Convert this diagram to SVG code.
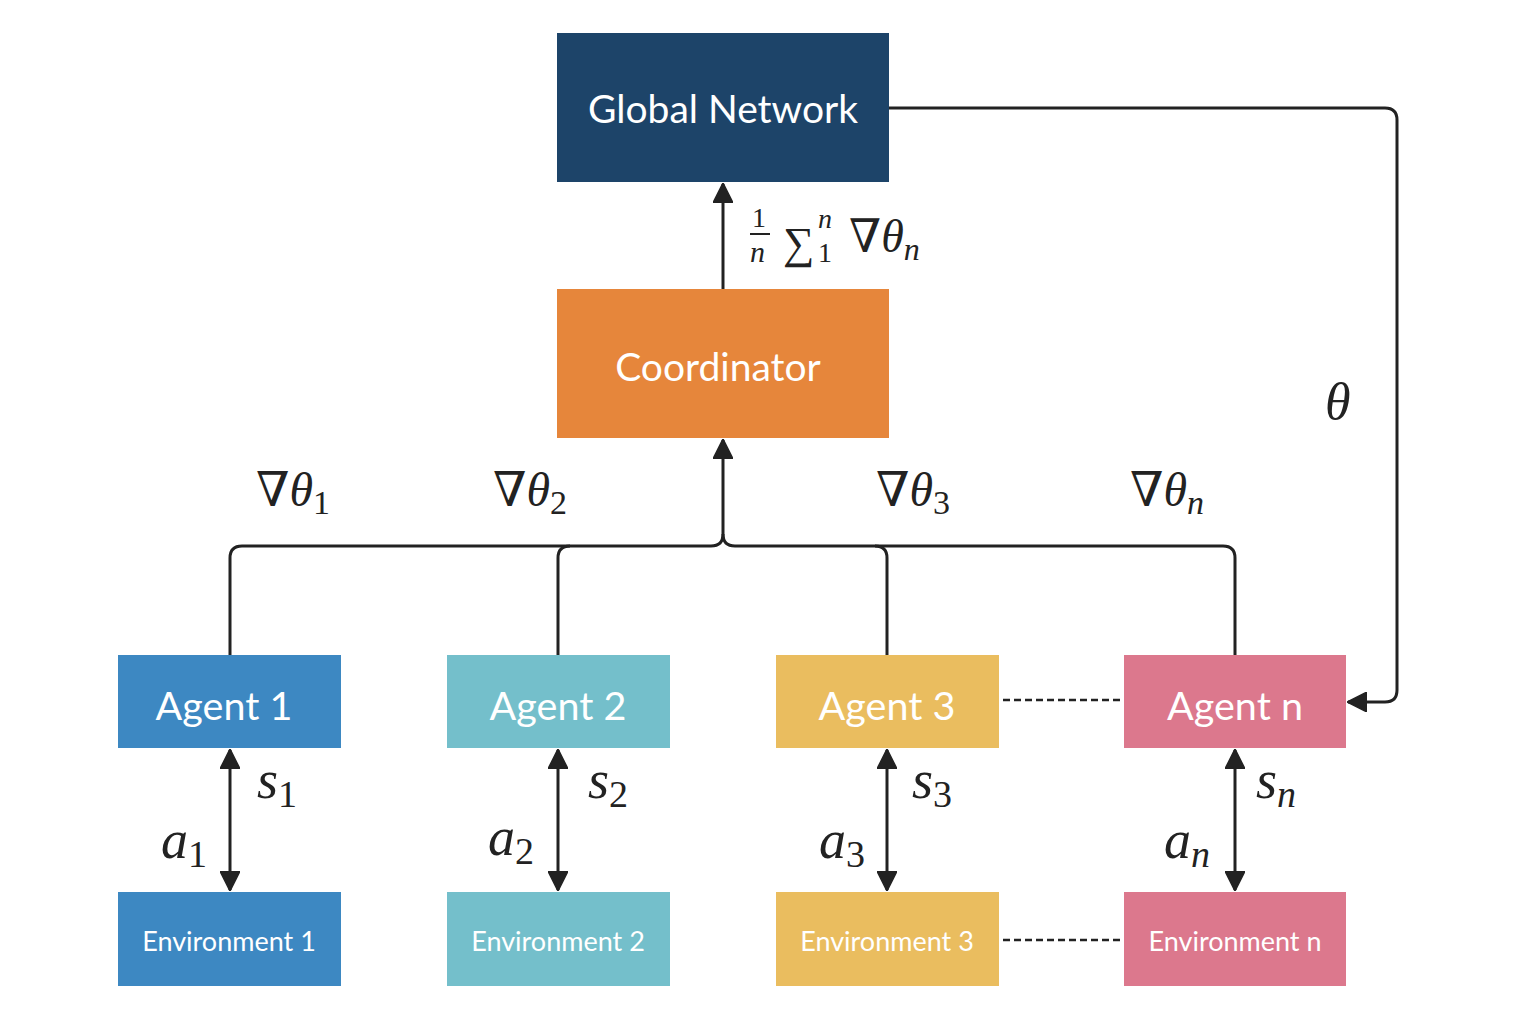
<svg xmlns="http://www.w3.org/2000/svg" width="1522" height="1016" viewBox="0 0 1522 1016">
<defs>
<marker id="ah" viewBox="0 0 20 20" refX="19" refY="10" markerWidth="20" markerHeight="20" markerUnits="userSpaceOnUse" orient="auto-start-reverse">
<path d="M0,0 L20,10 L0,20 Z" fill="#222" stroke="#222" stroke-width="1.5" stroke-linejoin="round"/>
</marker>
<style>
.box{stroke:none}
.t{font-family:Lato,"Open Sans",sans-serif;fill:#fff;text-anchor:middle;dominant-baseline:central}
.big{font-size:39px}
.ag{font-size:39.5px}
.env{font-size:27px}
.ln{fill:none;stroke:#222;stroke-width:3}
.dash{fill:none;stroke:#222;stroke-width:2.5;stroke-dasharray:7 4}
.m{font-family:"Liberation Serif","DejaVu Serif",serif;fill:#222;font-size:48px}
.sa{font-size:54px}
.i{font-style:italic}
.sub{font-size:34px}
</style>
</defs>
<rect width="1522" height="1016" fill="#fff"/>
<g id="global-network"><rect class="box" x="557" y="33" width="332" height="149" fill="#1d4469"/><text class="t big" x="723" y="108">Global Network</text></g>
<g id="coordinator"><rect class="box" x="557" y="289" width="332" height="149" fill="#e6863b"/><text class="t big" x="718" y="366">Coordinator</text></g>
<g id="agent1"><rect class="box" x="118" y="655" width="223" height="93" fill="#3d88c2"/><text class="t ag" x="224" y="704">Agent 1</text></g>
<g id="agent2"><rect class="box" x="447" y="655" width="223" height="93" fill="#74bfcb"/><text class="t ag" x="558" y="704">Agent 2</text></g>
<g id="agent3"><rect class="box" x="776" y="655" width="223" height="93" fill="#eabd5f"/><text class="t ag" x="887" y="704">Agent 3</text></g>
<g id="agentn"><rect class="box" x="1124" y="655" width="222" height="93" fill="#dc788d"/><text class="t ag" x="1235" y="704">Agent n</text></g>
<g id="env1"><rect class="box" x="118" y="892" width="223" height="94" fill="#3d88c2"/><text class="t env" x="229" y="940">Environment 1</text></g>
<g id="env2"><rect class="box" x="447" y="892" width="223" height="94" fill="#74bfcb"/><text class="t env" x="558" y="940">Environment 2</text></g>
<g id="env3"><rect class="box" x="776" y="892" width="223" height="94" fill="#eabd5f"/><text class="t env" x="887" y="940">Environment 3</text></g>
<g id="envn"><rect class="box" x="1124" y="892" width="222" height="94" fill="#dc788d"/><text class="t env" x="1235" y="940">Environment n</text></g>
<g id="connectors">
<path class="ln" d="M723,289 V184" marker-end="url(#ah)"/>
<path class="ln" d="M230,655 V558 Q230,546 242,546 H711 Q723,546 723,534 V440" marker-end="url(#ah)"/>
<path class="ln" d="M558,655 V558 Q558,546 570,546"/>
<path class="ln" d="M1235,655 V558 Q1235,546 1223,546 H735 Q723,546 723,534"/>
<path class="ln" d="M887,655 V558 Q887,546 875,546"/>
<path class="ln" d="M889,108 H1385 Q1397,108 1397,120 V690 Q1397,702 1385,702 H1348" marker-end="url(#ah)"/>
<path class="ln" d="M230,750 V890" marker-start="url(#ah)" marker-end="url(#ah)"/>
<path class="ln" d="M558,750 V890" marker-start="url(#ah)" marker-end="url(#ah)"/>
<path class="ln" d="M887,750 V890" marker-start="url(#ah)" marker-end="url(#ah)"/>
<path class="ln" d="M1235,750 V890" marker-start="url(#ah)" marker-end="url(#ah)"/>
<path class="dash" d="M1003,700 H1121"/>
<path class="dash" d="M1003,940 H1120"/>
</g>
<g id="labels">
<text class="m" x="256" y="506">∇<tspan class="i">θ</tspan><tspan class="sub" dy="8">1</tspan></text>
<text class="m" x="493" y="506">∇<tspan class="i">θ</tspan><tspan class="sub" dy="8">2</tspan></text>
<text class="m" x="876" y="506">∇<tspan class="i">θ</tspan><tspan class="sub" dy="8">3</tspan></text>
<text class="m" x="1130" y="506">∇<tspan class="i">θ</tspan><tspan class="sub i" dy="8">n</tspan></text>
<text class="m i" x="1325" y="419" style="font-size:52px">θ</text>
<text class="m sa" x="257" y="798"><tspan class="i">s</tspan><tspan class="sub" style="font-size:38px" dy="9">1</tspan></text>
<text class="m sa" x="588" y="798"><tspan class="i">s</tspan><tspan class="sub" style="font-size:38px" dy="9">2</tspan></text>
<text class="m sa" x="912" y="798"><tspan class="i">s</tspan><tspan class="sub" style="font-size:38px" dy="9">3</tspan></text>
<text class="m sa" x="1256" y="798"><tspan class="i">s</tspan><tspan class="sub i" style="font-size:38px" dy="9">n</tspan></text>
<text class="m sa" x="161" y="858"><tspan class="i">a</tspan><tspan class="sub" style="font-size:38px" dy="9">1</tspan></text>
<text class="m sa" x="488" y="855"><tspan class="i">a</tspan><tspan class="sub" style="font-size:38px" dy="9">2</tspan></text>
<text class="m sa" x="819" y="858"><tspan class="i">a</tspan><tspan class="sub" style="font-size:38px" dy="9">3</tspan></text>
<text class="m sa" x="1164" y="858"><tspan class="i">a</tspan><tspan class="sub i" style="font-size:38px" dy="9">n</tspan></text>
<text class="m" x="752" y="227" style="font-size:28px">1</text>
<line x1="750" y1="234" x2="770" y2="234" stroke="#222" stroke-width="2"/>
<text class="m i" x="750" y="262" style="font-size:30px">n</text>
<text class="m" x="783" y="258" style="font-size:44px">∑</text>
<text class="m i" x="818" y="228" style="font-size:28px">n</text>
<text class="m" x="818" y="262" style="font-size:28px">1</text>
<text class="m" x="849" y="252" style="font-size:46px">∇<tspan class="i">θ</tspan><tspan class="sub i" style="font-size:32px" dy="8">n</tspan></text>
</g>
</svg>
